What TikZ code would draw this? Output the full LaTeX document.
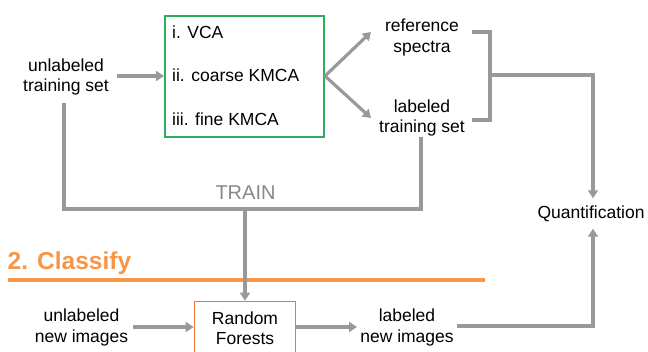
\documentclass[tikz,border=0pt]{standalone}
\usepackage{fontspec}
\setmainfont{Liberation Sans}
\usetikzlibrary{arrows.meta}
\definecolor{linegray}{HTML}{999999}
\definecolor{traingray}{HTML}{888888}
\definecolor{boxgreen}{HTML}{2EAD5C}
\definecolor{titleorange}{HTML}{F79646}
\definecolor{rforange}{HTML}{EC7439}
\begin{document}
\begin{tikzpicture}[x=1pt,y=-1pt,
  conn/.style={draw=linegray, line width=3.2pt},
  arr/.style={conn, -{Triangle[length=8pt,width=10pt]}},
  lbl/.style={font=\fontsize{17.5}{20.5}\selectfont, align=center, inner sep=0pt},
  boxtxt/.style={font=\fontsize{17.5}{20.5}\selectfont, anchor=west, inner sep=0pt},
]
\useasboundingbox (0,0) rectangle (648,352);

% ---- top row ----
\node[lbl] (uts) at (66,77) {unlabeled\\training set};
\node[draw=boxgreen, line width=2pt, minimum width=159pt, minimum height=121pt, inner sep=0pt] (box) at (244.5,76.5) {};
\node[boxtxt] (b1) at (172,32) {i. VCA};
\node[boxtxt] (b2) at (172,75.5) {ii. coarse KMCA};
\node[boxtxt] (b3) at (172,119) {iii. fine KMCA};
\node[lbl] (ref) at (422,37.5) {reference\\spectra};
\node[lbl] (lts) at (422,118) {labeled\\training set};
\node[lbl, minimum height=30pt] (quant) at (591,213.5) {Quantification};

\coordinate (a1) at (117,76);
\coordinate (a1e) at (164,76);
\draw[arr] (a1) -- (a1e);

\coordinate (bxe) at (325,76);
\coordinate (refin) at (371,32);
\coordinate (ltsin) at (371,118);
\draw[arr] (bxe) -- (refin);
\draw[arr] (bxe) -- (ltsin);

% bracket
\coordinate (brt) at (472,32);
\coordinate (brb) at (472,120);
\coordinate (brm) at (490,75);
\draw[conn] (brt) -- (490,32) -- (490,120) -- (brb);
\draw[arr] (brm) -| ([xshift=2pt]quant.north);

% TRAIN loop
\coordinate (t1) at (64,103);
\coordinate (tl) at (64,209);
\coordinate (tr) at (421,209);
\coordinate (t2) at (421,137);
\draw[conn] (t1) -- (tl) -- (tr) -- (t2);
\node[font=\fontsize{20}{22}\selectfont, text=traingray, inner sep=0pt] (train) at (245.5,193) {TRAIN};

% ---- classify ----
\node[font=\bfseries\fontsize{24.5}{26}\selectfont, text=titleorange, anchor=west, inner sep=0pt] (cls) at (7.5,263) {2. Classify};
\coordinate (ol) at (8,280);
\coordinate (or) at (485,280);
\draw[draw=titleorange, line width=3.2pt] (ol) -- (or);

\node[lbl] (uni) at (81.5,327.5) {unlabeled\\new images};
\node[draw=rforange, line width=1.8pt, minimum width=101pt, minimum height=60pt, inner sep=0pt] (rf) at (245,331.5) {};
\node[lbl] (rft) at (245,328) {Random\\Forests};
\node[lbl] (lni) at (407,327.5) {labeled\\new images};

\coordinate (tm) at (245,209);
\draw[arr] (tm) -- (rf.north);

\coordinate (u1) at (133,327);
\draw[arr] (u1) -- (rf.west |- u1);
\coordinate (r1) at (357,327);
\draw[arr] (rf.east |- r1) -- (r1);

\coordinate (l1) at (457,326);
\draw[arr] (l1) -| ([xshift=2pt]quant.south);
\end{tikzpicture}
\end{document}
